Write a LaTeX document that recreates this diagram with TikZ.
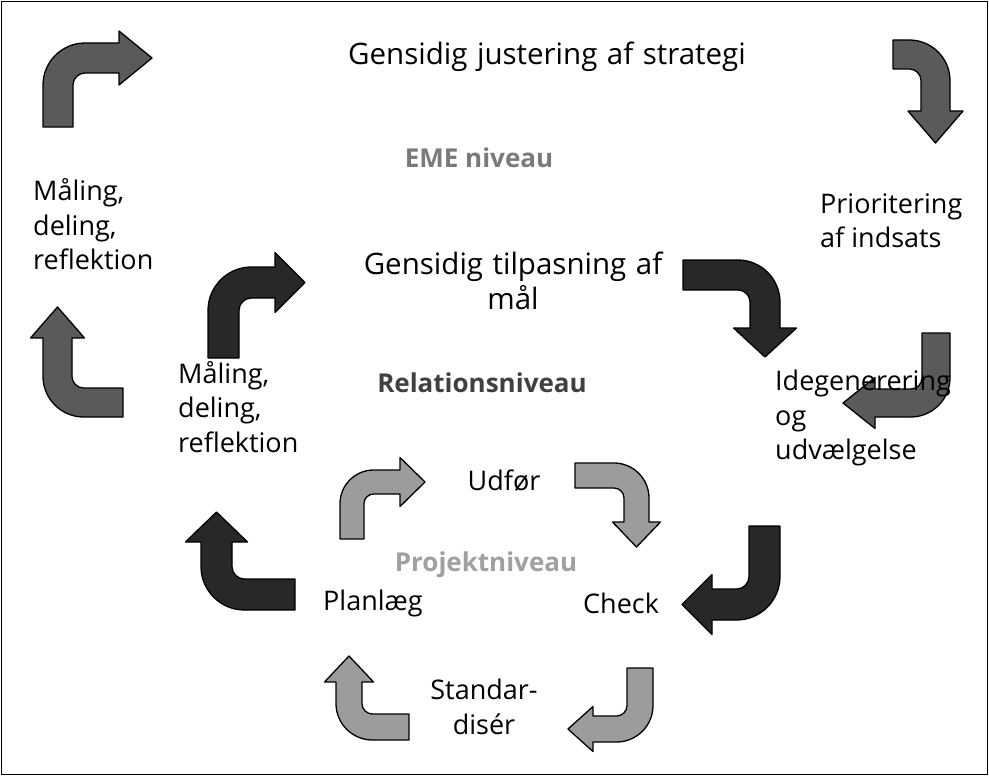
\documentclass[tikz,border=0pt]{standalone}
\usepackage{fontspec}
\setmainfont{Open Sans}
\definecolor{midgray}{HTML}{5A5A5A}
\definecolor{darkgray2}{HTML}{282828}
\definecolor{lightgray2}{HTML}{9C9C9C}
\definecolor{emecol}{HTML}{7A7A7A}
\definecolor{relcol}{HTML}{404040}
\definecolor{projcol}{HTML}{A0A0A0}
% #1 colour, #2 x, #3 y (image px), #4 rotation, #5 A, #6 B, #7 w, #8 h, #9 hl
\newcommand{\bentarr}[9]{%
  \begin{scope}[shift={(#2,-#3)},rotate=#4]
    \pgfmathsetmacro\RR{1.4*#7}\pgfmathsetmacro\rr{0.4*#7}
    \draw[arrowshape,fill=#1]
      (0,0) -- (0,#5-\RR)
      .. controls (0,#5-0.45*\RR) and (0.45*\RR,#5) .. (\RR,#5)
      -- (#6,#5) -- (#6,#5-0.5*#7+#8) -- (#6+#9,#5-0.5*#7)
      -- (#6,#5-0.5*#7-#8) -- (#6,#5-#7) -- (#7+\rr,#5-#7)
      .. controls (#7+0.45*\rr,#5-#7) and (#7,#5-#7-0.45*\rr) .. (#7,#5-#7-\rr)
      -- (#7,0) -- cycle;
  \end{scope}}
\newcommand{\wsp}{\hspace{9.5pt}}
\tikzset{
  arrowshape/.style={draw=black,line width=1.3pt,line join=round},
  lbl/.style={font=\fontsize{27}{34.5}\selectfont,inner sep=0pt,text=black},
  biglbl/.style={font=\fontsize{29.5}{34.5}\selectfont,inner sep=0pt,text=black},
  lvl/.style={font=\fontsize{26}{34.5}\selectfont\bfseries,inner sep=0pt}
}
\begin{document}
\begin{tikzpicture}[x=1pt,y=1pt]
\useasboundingbox (0,0) rectangle (989,-776);
\fill[white] (0,0) rectangle (989,-776);
\draw[line width=1.5pt] (1.5,-1.5) rectangle (987.5,-774.5);
% arrows
\bentarr{midgray}{43}{127}{0}{84}{76}{30}{27}{33}
\bentarr{midgray}{893}{40}{-90}{57}{71}{29}{27.5}{32}
\bentarr{midgray}{950}{333}{180}{84}{75}{28}{25.5}{32}
\bentarr{midgray}{123}{417}{90}{80}{79}{29}{27}{31}
\bentarr{darkgray2}{208}{358}{0}{91}{67}{31}{30}{30}
\bentarr{darkgray2}{683}{260}{-90}{97}{68}{30}{31.5}{29}
\bentarr{darkgray2}{780}{526}{180}{94}{68}{31}{30}{30}
\bentarr{darkgray2}{295}{610}{90}{94}{68}{31}{31}{30}
\bentarr{lightgray2}{340}{539}{0}{69}{60}{24}{24.5}{25}
\bentarr{lightgray2}{575}{463}{-90}{74}{59}{25}{24}{25}
\bentarr{lightgray2}{653}{668}{180}{74}{60}{26}{22.5}{25}
\bentarr{lightgray2}{409}{740}{90}{73}{58}{26}{24.5}{26}
% texts
\node[biglbl] (strat) at (547,-57) {Gensidig\wsp justering\wsp af\wsp strategi};
\node[lvl,text=emecol] (eme) at (479,-158) {EME niveau};
\node[lbl,align=left,anchor=west] (maal1) at (33,-224.5) {Måling,\\deling,\\reflektion};
\node[lbl,align=left,anchor=west] (prio) at (820,-220.5) {Prioritering\\af indsats};
\node[biglbl,align=center] (tilp) at (513,-281) {Gensidig\wsp tilpasning\wsp af\\mål};
\node[lvl,text=relcol] (rel) at (482,-383) {Relationsniveau};
\node[lbl,align=left,anchor=west] (maal2) at (178,-407) {Måling,\\deling,\\reflektion};
\node[lbl,align=left,anchor=west] (ide) at (775,-418) {Idegenerering\\og\\udvælgelse};
\node[lbl] (udf) at (504,-481) {Udfør};
\node[lvl,text=projcol] (proj) at (486,-565) {Projektniveau};
\node[lbl,anchor=west] (plan) at (323,-603) {Planlæg};
\node[lbl,anchor=west] (check) at (583,-603) {Check};
\node[lbl,align=center] (std) at (484,-707) {Standar-\\disér};
\end{tikzpicture}
\end{document}
